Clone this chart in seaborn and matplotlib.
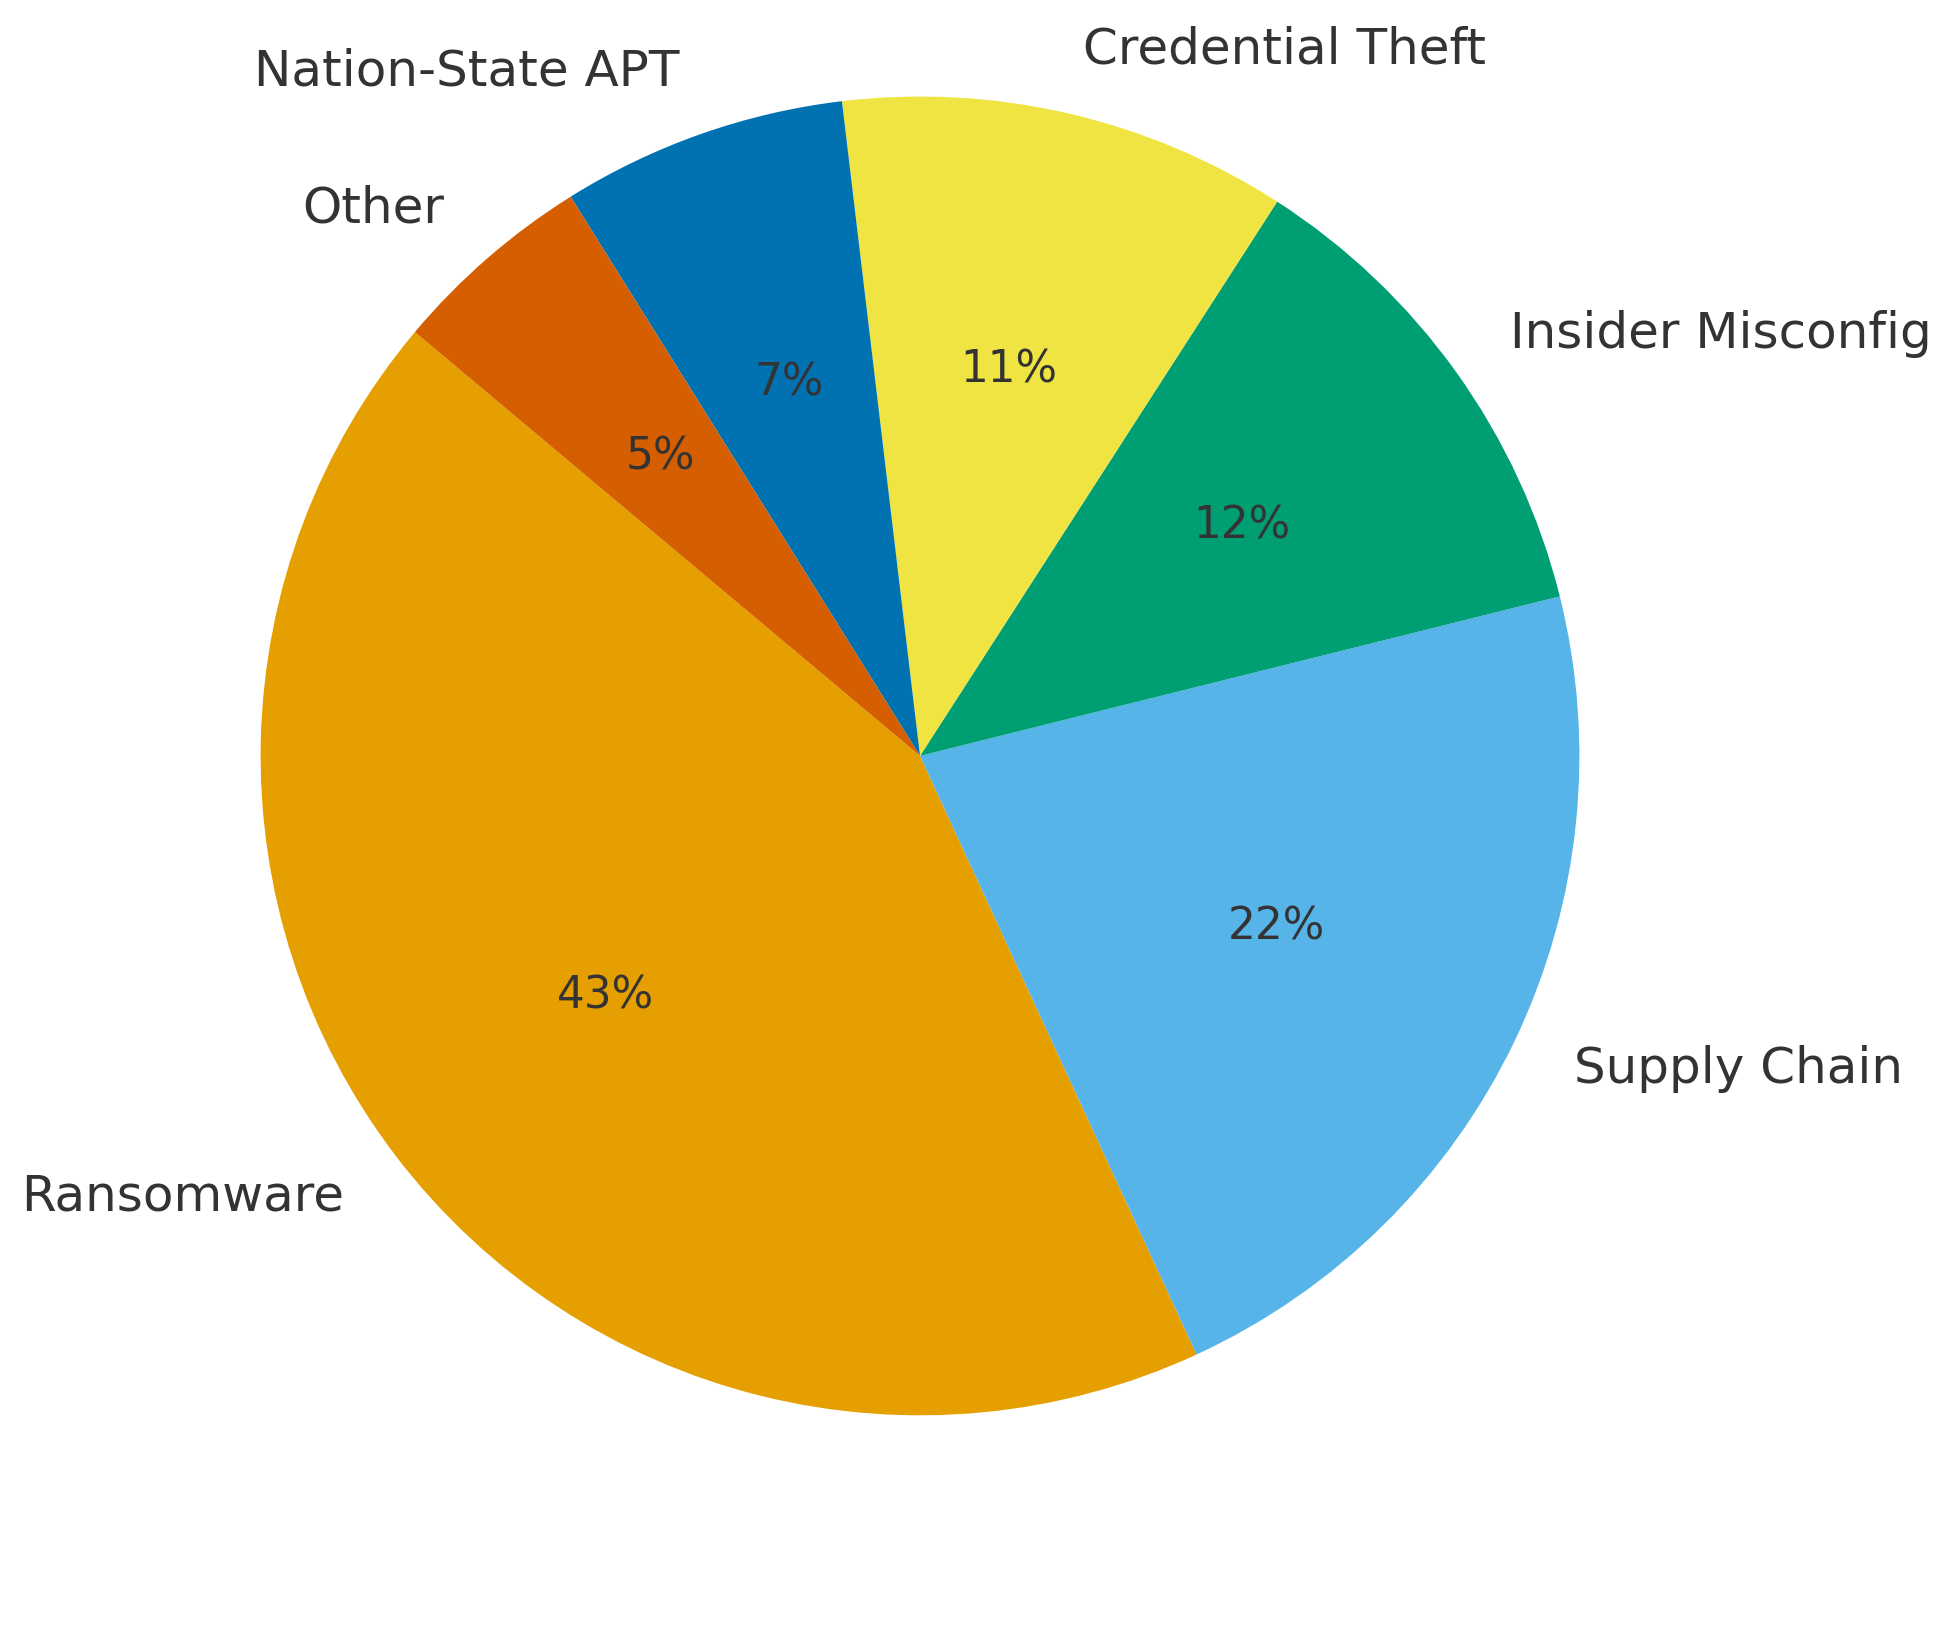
import matplotlib
matplotlib.use("Agg")
import matplotlib.pyplot as plt
import seaborn as sns

# Incident categories and their share (%)
categories = ["Ransomware", "Supply Chain", "Insider Misconfig",
              "Credential Theft", "Nation-State APT", "Other"]
shares = [43, 22, 12, 11, 7, 5]
pie_colors = ["#E69F00", "#56B4E9", "#009E73", "#F0E442", "#0072B2", "#D55E00"]


def main():
    sns.set_theme(style="white")
    plt.rcParams['font.family'] = ['DejaVu Sans']

    fig = plt.figure(figsize=(13, 10.84), dpi=150)
    ax = fig.add_axes([0.0508, 0.0301, 0.842, 1.01])
    wedges, texts, autotexts = ax.pie(
        shares, labels=categories, colors=pie_colors, startangle=140,
        autopct="%1.0f%%", pctdistance=0.6, labeldistance=1.1,
        wedgeprops={"linewidth": 0},
        textprops={"color": "#333333"})
    for t in texts:
        t.set_fontsize(24)
        t.set_clip_on(False)
    for t in autotexts:
        t.set_fontsize(21)
    ax.set_xlim(-1.245, 1.245)
    ax.set_ylim(-1.245, 1.245)
    fig.savefig("out.png", dpi=150)
    plt.close(fig)


if __name__ == "__main__":
    main()
